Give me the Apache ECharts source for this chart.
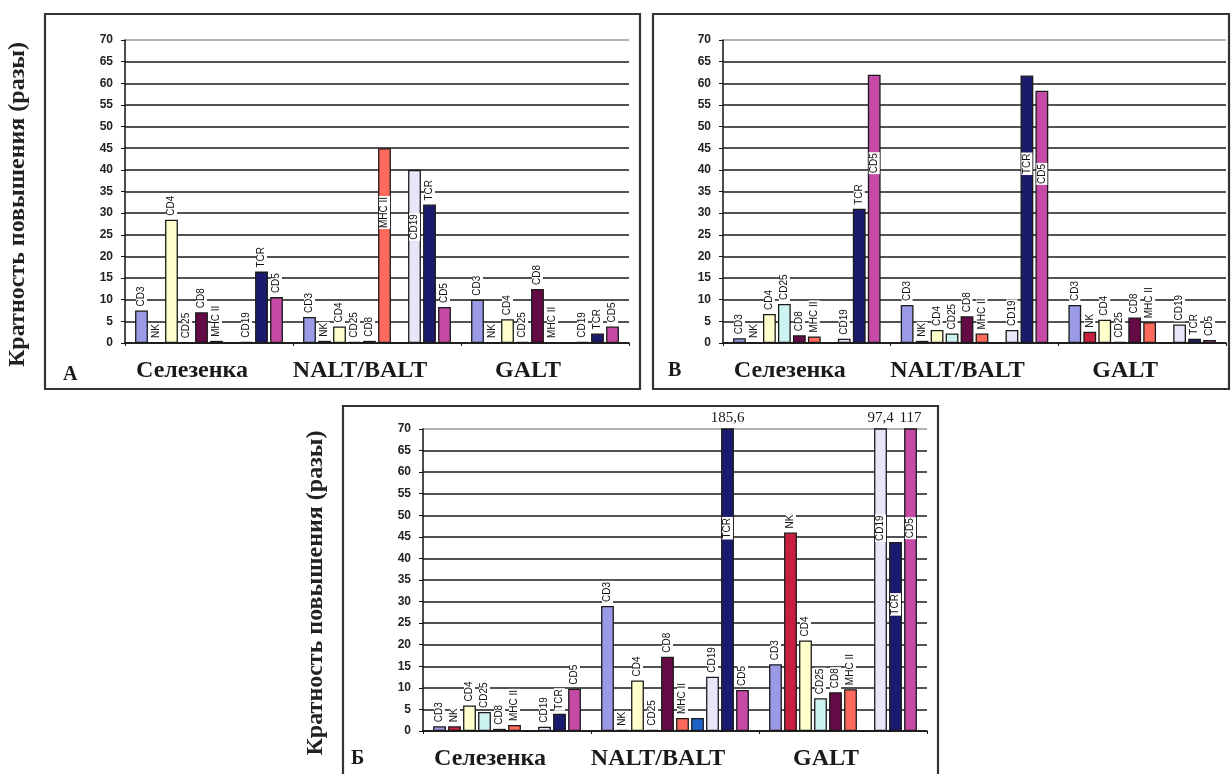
<!DOCTYPE html>
<html>
<head>
<meta charset="utf-8">
<script src="https://cdn.jsdelivr.net/npm/echarts@6/dist/echarts.min.js"></script>
<style>
  html, body { margin: 0; padding: 0; background: #fff; }
  #chart { width: 1231px; height: 774px; }
</style>
</head>
<body>
<div id="chart"></div>
<script>
const categories = ['Селезенка', 'NALT/BALT', 'GALT']
const markers = ['CD3', 'NK', 'CD4', 'CD25', 'CD8', 'MHC II', '', 'CD19', 'TCR', 'CD5']
const yMin = 0
const yMax = 70
const yStep = 5

// panel А
const aSpleen = [7.5, 0.2, 28.5, 0, 7.1, 0.5, 0, 0.3, 16.5, 10.6]
const aNalt = [6, 0.5, 3.8, 0.3, 0.5, 45, 0, 40, 32, 8.3]
const aGalt = [10, 0.2, 5.5, 0.3, 12.5, 0.2, 0, 0.3, 2.2, 3.8]

// panel В
const vSpleen = [1.1, 0.2, 6.7, 9, 1.8, 1.5, 0, 1, 31, 62]
const vNalt = [8.8, 0.5, 3, 2.2, 6.2, 2.2, 0, 3, 61.8, 58.3]
const vGalt = [8.8, 2.6, 5.4, 0.3, 5.9, 4.8, 0, 4.3, 1, 0.7]

// panel Б
const bSpleen = [1.1, 1.1, 5.9, 4.4, 0.5, 1.4, 0, 1, 4, 9.8]
const bNalt = [29, 0.3, 11.7, 0.3, 17.2, 3, 3, 12.6, 185.6, 9.5]
const bGalt = [15.5, 46, 21, 7.6, 9, 9.7, 0, 97.4, 43.8, 117]

const colors = ['#9a9ae6', '#c8203f', '#ffffcc', '#cdf2f2', '#640a44', '#ff6a5c', '#1e62c8', '#e8e6f8', '#1b1b6e', '#c54aa6']
const serif = "'Liberation Serif', 'Times New Roman', serif"
const sans = "'Liberation Sans', Arial, sans-serif"

const panels = [
  {
    letter: 'А', values: [aSpleen, aNalt, aGalt], yName: true,
    grid: { left: 125, top: 40, width: 504, height: 303 },
    box: [45, 14, 595, 375], letterPos: [58, 360],
    inside: [[1, 5], [1, 7]]
  },
  {
    letter: 'В', values: [vSpleen, vNalt, vGalt], yName: false,
    grid: { left: 723, top: 40, width: 503, height: 303 },
    box: [653, 14, 576, 375], letterPos: [663, 356],
    inside: [[0, 9], [1, 8], [1, 9]]
  },
  {
    letter: 'Б', values: [bSpleen, bNalt, bGalt], yName: true,
    grid: { left: 423, top: 429, width: 504, height: 302 },
    box: [343, 406, 595, 390], letterPos: [346, 744],
    inside: [[1, 8], [2, 7], [2, 8], [2, 9]]
  }
]

const topLabel = {
  show: true,
  position: 'top',
  rotate: 90,
  align: 'left',
  verticalAlign: 'middle',
  distance: 3,
  fontSize: 10,
  fontFamily: sans,
  color: '#111',
  backgroundColor: '#fff',
  padding: [1, 1, 0, 1]
}

const insideLabel = Object.assign({}, topLabel, {
  position: ['50%', '33%'],
  align: 'center'
})

const gridLineColors = []
for (let v = yMin; v <= yMax; v += yStep) {
  gridLineColors.push(v === yMax ? '#999' : '#1a1a1a')
}

const grids = []
const xAxes = []
const yAxes = []
const series = []
const titles = []
const boxes = []

panels.forEach((p, pi) => {
  grids.push(p.grid)
  xAxes.push({
    type: 'category',
    gridIndex: pi,
    data: categories,
    axisLine: { lineStyle: { color: '#111', width: 1.5 } },
    axisTick: { show: true, length: 3, lineStyle: { color: '#111' } },
    axisLabel: {
      interval: 0,
      margin: 16,
      padding: [0, 34, 0, 0],
      fontFamily: serif,
      fontWeight: 'bold',
      fontSize: 24,
      color: '#1a1a1a'
    },
    splitLine: { show: false }
  })
  yAxes.push({
    type: 'value',
    gridIndex: pi,
    min: yMin,
    max: yMax,
    interval: yStep,
    name: p.yName ? 'Кратность повышения (разы)' : '',
    nameLocation: 'middle',
    nameRotate: 90,
    nameGap: 95,
    nameTextStyle: {
      fontFamily: serif,
      fontWeight: 'bold',
      fontSize: 24,
      color: '#222',
      padding: [0, 26, 0, 0]
    },
    axisLine: { show: true, lineStyle: { color: '#111', width: 1.5 } },
    axisTick: { show: true, length: 4, lineStyle: { color: '#111' } },
    axisLabel: { margin: 12, fontFamily: sans, fontWeight: 'bold', fontSize: 12, color: '#222' },
    splitLine: { show: true, lineStyle: { color: gridLineColors, width: 1.6 } }
  })

  markers.forEach((name, s) => {
    const raw = p.values.map(cat => cat[s])
    const data = raw.map((v, c) => {
      const isInside = p.inside.some(([ci, si]) => ci === c && si === s)
      return isInside ? { value: v, label: insideLabel } : v
    })
    // values above the axis top are written over the cut bar
    const overflow = []
    raw.forEach((v, c) => {
      if (v > yMax) overflow.push({ coord: [categories[c], yMax], value: v })
    })
    series.push({
      type: 'bar',
      name: name,
      xAxisIndex: pi,
      yAxisIndex: pi,
      data: data,
      clip: true,
      barGap: '17%',
      barCategoryGap: '12%',
      itemStyle: { color: colors[s], borderColor: '#1a1a1a', borderWidth: 1.3 },
      label: Object.assign({}, topLabel, { show: name !== '', formatter: () => name }),
      emphasis: { disabled: true },
      markPoint: overflow.length ? {
        symbol: 'rect',
        symbolSize: 1,
        silent: true,
        itemStyle: { color: 'rgba(0,0,0,0)' },
        label: {
          show: true,
          position: 'top',
          distance: 3,
          rotate: 0,
          fontFamily: serif,
          fontSize: 15,
          color: '#1a1a1a',
          formatter: m => String(m.value).replace('.', ',')
        },
        data: overflow
      } : undefined
    })
  })

  titles.push({
    text: p.letter,
    left: p.letterPos[0],
    top: p.letterPos[1],
    textStyle: { fontFamily: serif, fontWeight: 'bold', fontSize: 20, color: '#1a1a1a' }
  })

  boxes.push({
    type: 'rect',
    silent: true,
    shape: { x: p.box[0], y: p.box[1], width: p.box[2], height: p.box[3] },
    style: { fill: 'none', stroke: '#333', lineWidth: 2.2 }
  })
})

const chart = echarts.init(document.getElementById('chart'))
chart.setOption({
  animation: false,
  backgroundColor: '#fff',
  title: titles,
  grid: grids,
  xAxis: xAxes,
  yAxis: yAxes,
  series: series,
  graphic: boxes
})
</script>
</body>
</html>
